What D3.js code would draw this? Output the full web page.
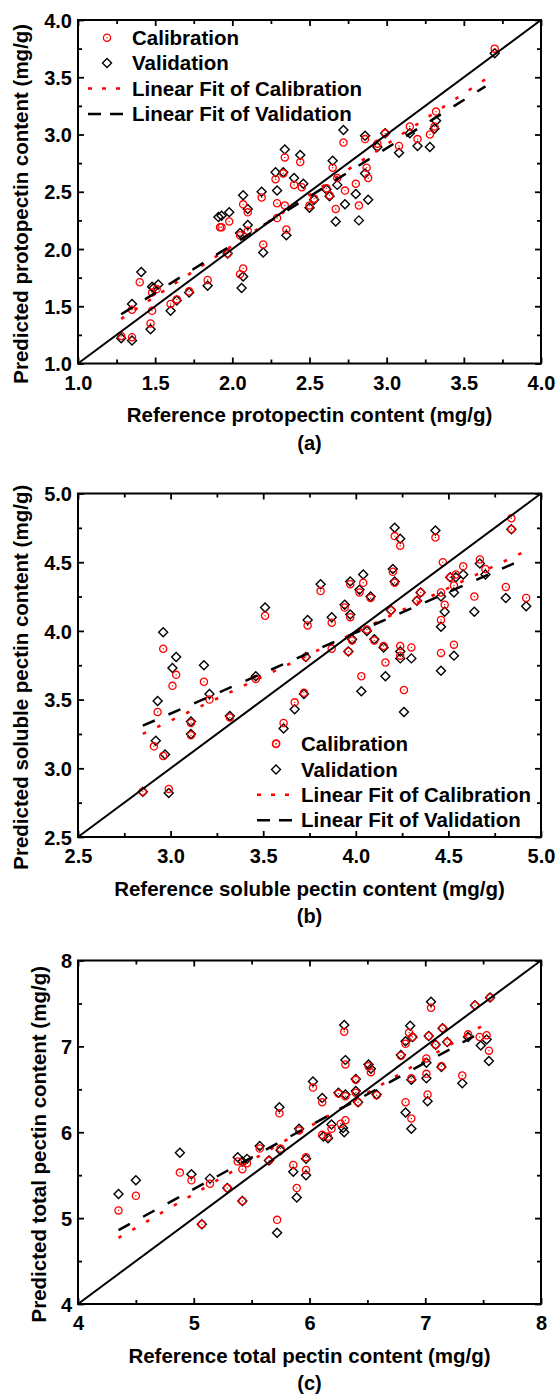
<!DOCTYPE html>
<html>
<head>
<meta charset="utf-8">
<script src="https://cdn.jsdelivr.net/npm/d3@7"></script>
<style>
  body { margin: 0; background: #fff; }
  svg text { font-family: "Liberation Sans", Arial, sans-serif; font-weight: bold; fill: #000; }
</style>
</head>
<body>
<svg id="chart" width="556" height="1395"></svg>
<script>
// ---- data: [reference, predicted] ----
const calA = [[3.70,3.75],[3.32,3.20],[3.31,3.07],[3.28,3.00],[3.20,2.96],[3.15,3.07],[3.08,2.90],[2.99,3.01],[2.94,2.92],[2.86,2.96],[2.72,2.93],[2.87,2.71],[2.88,2.62],[2.80,2.57],[2.82,2.38],[2.73,2.51],[2.67,2.35],[2.65,2.71],[2.68,2.62],[2.61,2.53],[2.63,2.47],[2.53,2.44],[2.50,2.38],[2.44,2.76],[2.45,2.54],[2.40,2.56],[2.34,2.80],[2.33,2.66],[2.28,2.61],[2.29,2.40],[2.34,2.38],[2.35,2.17],[2.29,2.27],[2.19,2.45],[2.20,2.04],[2.07,2.39],[2.10,2.32],[2.07,1.83],[2.05,1.78],[2.05,2.12],[2.10,2.16],[1.98,2.24],[1.93,2.19],[1.92,2.19],[1.97,1.96],[1.84,1.73],[1.72,1.63],[1.64,1.56],[1.60,1.52],[1.51,1.65],[1.48,1.62],[1.40,1.71],[1.48,1.46],[1.47,1.35],[1.35,1.47],[1.35,1.23],[1.28,1.24]];
const valA = [[3.70,3.71],[3.32,3.12],[3.31,3.05],[3.28,2.89],[3.20,2.90],[3.15,3.01],[3.08,2.84],[2.99,3.01],[2.94,2.89],[2.86,2.99],[2.72,3.04],[2.86,2.66],[2.88,2.43],[2.80,2.48],[2.82,2.25],[2.73,2.39],[2.67,2.24],[2.65,2.77],[2.68,2.56],[2.61,2.52],[2.63,2.46],[2.53,2.43],[2.50,2.36],[2.44,2.82],[2.46,2.57],[2.40,2.62],[2.34,2.87],[2.33,2.67],[2.28,2.67],[2.29,2.51],[2.35,2.12],[2.19,2.50],[2.20,1.97],[2.07,2.47],[2.10,2.35],[2.10,2.21],[2.07,1.76],[2.06,1.66],[2.05,2.14],[1.98,2.32],[1.93,2.29],[1.91,2.28],[1.97,1.96],[1.84,1.68],[1.72,1.62],[1.64,1.55],[1.60,1.46],[1.52,1.69],[1.49,1.66],[1.41,1.80],[1.48,1.67],[1.47,1.30],[1.35,1.52],[1.35,1.20],[1.28,1.22]];
const calB = [[2.85,2.83],[2.91,3.16],[2.96,3.09],[2.99,2.85],[2.93,3.41],[2.96,3.87],[3.01,3.60],[3.03,3.68],[3.11,3.24],[3.11,3.33],[3.18,3.63],[3.21,3.50],[3.32,3.37],[3.46,3.65],[3.51,4.11],[3.57,3.18],[3.61,3.33],[3.67,3.48],[3.72,3.55],[3.73,3.81],[3.74,4.04],[3.81,4.29],[3.87,4.06],[3.87,3.87],[3.94,4.17],[3.96,3.85],[3.97,4.10],[3.98,3.93],[3.97,4.34],[4.02,4.28],[4.04,4.35],[4.03,3.67],[4.06,4.01],[4.08,4.24],[4.10,3.93],[4.15,3.89],[4.16,3.77],[4.19,4.15],[4.20,4.43],[4.21,4.35],[4.21,4.69],[4.24,4.62],[4.24,3.89],[4.24,3.82],[4.26,3.57],[4.30,3.88],[4.33,4.22],[4.35,4.28],[4.43,4.68],[4.46,3.84],[4.46,4.08],[4.46,4.28],[4.47,4.50],[4.48,4.19],[4.51,4.39],[4.53,4.33],[4.53,3.90],[4.54,4.41],[4.58,4.47],[4.64,4.25],[4.67,4.52],[4.70,4.45],[4.81,4.32],[4.84,4.82],[4.84,4.74],[4.92,4.24]];
const valB = [[2.85,2.83],[2.92,3.20],[2.97,3.10],[2.99,2.82],[2.93,3.49],[2.96,3.99],[3.01,3.73],[3.03,3.81],[3.11,3.25],[3.11,3.34],[3.18,3.75],[3.21,3.54],[3.32,3.38],[3.46,3.67],[3.51,4.17],[3.61,3.29],[3.67,3.43],[3.72,3.54],[3.73,3.81],[3.74,4.08],[3.81,4.34],[3.87,4.10],[3.94,4.19],[3.96,3.85],[3.97,4.12],[3.98,3.94],[3.97,4.36],[4.02,4.30],[4.04,4.41],[4.03,3.56],[4.06,4.00],[4.08,4.25],[4.10,3.94],[4.15,3.88],[4.16,3.67],[4.19,4.15],[4.20,4.45],[4.21,4.36],[4.21,4.75],[4.24,4.67],[4.24,3.85],[4.24,3.80],[4.26,3.41],[4.30,3.80],[4.33,4.22],[4.35,4.28],[4.43,4.73],[4.46,3.71],[4.46,4.03],[4.46,4.25],[4.48,4.14],[4.51,4.39],[4.53,4.28],[4.53,3.82],[4.54,4.39],[4.58,4.41],[4.64,4.14],[4.67,4.49],[4.70,4.41],[4.81,4.24],[4.84,4.74],[4.92,4.18]];
const calC = [[4.35,5.09],[4.50,5.26],[4.88,5.53],[4.98,5.44],[5.07,4.93],[5.14,5.40],[5.29,5.35],[5.38,5.66],[5.42,5.57],[5.46,5.64],[5.42,5.20],[5.57,5.81],[5.65,5.67],[5.72,4.98],[5.74,6.22],[5.75,5.81],[5.86,5.62],[5.89,5.35],[5.91,6.02],[5.97,5.71],[5.97,5.56],[6.03,6.52],[6.11,6.35],[6.11,5.97],[6.16,5.95],[6.19,6.04],[6.25,6.45],[6.27,6.10],[6.30,7.17],[6.31,6.79],[6.31,6.42],[6.31,6.14],[6.40,6.61],[6.40,6.46],[6.42,6.35],[6.51,6.77],[6.53,6.70],[6.58,6.43],[6.79,6.89],[6.83,7.03],[6.83,6.35],[6.86,7.16],[6.88,6.63],[6.88,6.16],[6.89,7.11],[7.01,6.86],[7.01,6.68],[7.02,6.44],[7.03,7.12],[7.05,7.45],[7.09,7.02],[7.14,6.77],[7.15,7.21],[7.19,7.05],[7.32,6.66],[7.37,7.14],[7.43,7.48],[7.47,7.11],[7.53,7.13],[7.55,6.95],[7.56,7.57]];
const valC = [[4.35,5.28],[4.50,5.44],[4.88,5.76],[4.98,5.51],[5.07,4.93],[5.14,5.46],[5.29,5.35],[5.38,5.71],[5.42,5.66],[5.46,5.69],[5.42,5.20],[5.57,5.84],[5.65,5.67],[5.72,4.83],[5.74,6.29],[5.75,5.79],[5.86,5.54],[5.89,5.24],[5.91,6.04],[5.97,5.69],[5.97,5.50],[6.03,6.59],[6.11,6.40],[6.12,5.95],[6.16,5.93],[6.19,6.09],[6.25,6.46],[6.29,6.05],[6.30,7.25],[6.31,6.84],[6.31,6.44],[6.30,6.00],[6.40,6.62],[6.40,6.48],[6.42,6.35],[6.51,6.79],[6.53,6.74],[6.58,6.44],[6.79,6.90],[6.83,7.06],[6.83,6.23],[6.87,7.24],[6.88,6.61],[6.88,6.04],[6.89,7.11],[7.01,6.81],[7.01,6.63],[7.02,6.36],[7.03,7.12],[7.05,7.52],[7.09,7.02],[7.14,6.76],[7.15,7.21],[7.19,7.05],[7.32,6.57],[7.37,7.11],[7.43,7.48],[7.48,7.01],[7.53,7.08],[7.55,6.83],[7.56,7.57]];

// linear fit end points as drawn in the figure
const fitCalA = [[1.28,1.39],[3.66,3.50]], fitValA = [[1.28,1.43],[3.64,3.42]];
const fitCalB = [[2.85,3.25],[4.90,4.57]], fitValB = [[2.85,3.31],[4.92,4.53]];
const fitCalC = [[4.35,4.77],[7.52,7.26]], fitValC = [[4.35,4.86],[7.49,7.17]];

const domainA = [1, 4], domainB = [2.5, 5], domainC = [4, 8];
const ticksA = [1.0,1.5,2.0,2.5,3.0,3.5,4.0], minorA = [1.25,1.75,2.25,2.75,3.25,3.75];
const ticksB = [2.5,3.0,3.5,4.0,4.5,5.0], minorB = [2.75,3.25,3.75,4.25,4.75];
const ticksC = [4,5,6,7,8], minorC = [4.5,5.5,6.5,7.5];

const xTitles = ["Reference protopectin content (mg/g)", "Reference soluble pectin content (mg/g)", "Reference total pectin content (mg/g)"];
const yTitles = ["Predicted protopectin content (mg/g)", "Predicted soluble pectin content (mg/g)", "Predicted total pectin content (mg/g)"];
const panelLabels = ["(a)", "(b)", "(c)"];
const legendLabels = ["Calibration", "Validation", "Linear Fit of Calibration", "Linear Fit of Validation"];

// ---- layout ----
let svg = d3.select("#chart"),
    left = 78, right = 541, plotH = 343.5;

let panels = [
  {cal: calA, val: valA, fitCal: fitCalA, fitVal: fitValA, dom: domainA, ticks: ticksA, minor: minorA, fmt: d3.format(".1f"),
   top: 20, yTitleX: 28, legend: {x: 88, y: 37.7}},
  {cal: calB, val: valB, fitCal: fitCalB, fitVal: fitValB, dom: domainB, ticks: ticksB, minor: minorB, fmt: d3.format(".1f"),
   top: 493.5, yTitleX: 28, legend: {x: 257, y: 744}},
  {cal: calC, val: valC, fitCal: fitCalC, fitVal: fitValC, dom: domainC, ticks: ticksC, minor: minorC, fmt: d3.format("d"),
   top: 960.5, yTitleX: 46, legend: null}
];

function diamond(r) { return "M0," + (-r) + "L" + r + ",0L0," + r + "L" + (-r) + ",0Z"; }

panels.forEach((p, i) => {
  let x = d3.scaleLinear().domain(p.dom).range([0, right - left]),
      y = d3.scaleLinear().domain(p.dom).range([plotH, 0]),
      w = right - left;
  let g = svg.append("g").attr("transform", "translate(" + left + "," + p.top + ")");

  // axes: all ticks inward, labels on bottom/left only
  let ax = [
    [d3.axisBottom(x).tickValues(p.ticks).tickSize(-6).tickPadding(12).tickFormat(p.fmt), "translate(0," + plotH + ")"],
    [d3.axisBottom(x).tickValues(p.minor).tickSize(-4).tickFormat(""), "translate(0," + plotH + ")"],
    [d3.axisTop(x).tickValues(p.ticks).tickSize(-6).tickFormat(""), null],
    [d3.axisTop(x).tickValues(p.minor).tickSize(-4).tickFormat(""), null],
    [d3.axisLeft(y).tickValues(p.ticks).tickSize(-6).tickPadding(6).tickFormat(p.fmt), null, true],
    [d3.axisLeft(y).tickValues(p.minor).tickSize(-4).tickFormat(""), null],
    [d3.axisRight(y).tickValues(p.ticks).tickSize(-6).tickFormat(""), "translate(" + w + ",0)"],
    [d3.axisRight(y).tickValues(p.minor).tickSize(-4).tickFormat(""), "translate(" + w + ",0)"]
  ];
  ax.forEach(a => {
    let ag = g.append("g").call(a[0]);
    if (a[1]) ag.attr("transform", a[1]);
    ag.select(".domain").remove();
    ag.selectAll(".tick line").attr("stroke", "#000").attr("stroke-width", 1.8);
    ag.selectAll(".tick text").attr("font-size", "20px").attr("fill", "#000")
      .attr("font-family", "Liberation Sans, Arial, sans-serif").attr("font-weight", "bold");
    if (a[2]) ag.selectAll(".tick text").attr("dy", "0.36em");
  });

  let line = d3.line().x(d => x(d[0])).y(d => y(d[1]));

  // markers
  g.append("g").selectAll("path").data(p.val).enter().append("path")
    .attr("d", diamond(4.5))
    .attr("transform", d => "translate(" + x(d[0]) + "," + y(d[1]) + ")")
    .attr("fill", "none").attr("stroke", "#000").attr("stroke-width", 1.4);
  let cg = g.append("g").selectAll("g").data(p.cal).enter().append("g")
    .attr("transform", d => "translate(" + x(d[0]) + "," + y(d[1]) + ")");
  cg.append("circle").attr("r", 3.6).attr("fill", "none").attr("stroke", "#ff0000").attr("stroke-width", 1.3);
  cg.append("circle").attr("r", 0.7).attr("fill", "#ff0000");

  // fit lines
  g.append("path").datum(p.fitCal).attr("d", line)
    .attr("fill", "none").attr("stroke", "#ff0000").attr("stroke-width", 2.6).attr("stroke-dasharray", "3.5,12.5");
  g.append("path").datum(p.fitVal).attr("d", line)
    .attr("fill", "none").attr("stroke", "#000").attr("stroke-width", 2.5).attr("stroke-dasharray", "13,15");

  // 1:1 line
  g.append("path").datum([[p.dom[0], p.dom[0]], [p.dom[1], p.dom[1]]]).attr("d", line)
    .attr("fill", "none").attr("stroke", "#000").attr("stroke-width", 2);

  // frame
  g.append("rect").attr("width", w).attr("height", plotH)
    .attr("fill", "none").attr("stroke", "#000").attr("stroke-width", 2);

  // titles
  g.append("text").attr("x", w / 2).attr("y", plotH + 58.5).attr("text-anchor", "middle")
    .attr("font-size", "20.5px").text(xTitles[i]);
  g.append("text").attr("x", w / 2).attr("y", plotH + 86).attr("text-anchor", "middle")
    .attr("font-size", "20px").text(panelLabels[i]);
  svg.append("text").attr("transform", "translate(" + p.yTitleX + "," + (p.top + plotH / 2 + 12) + ") rotate(-90)")
    .attr("text-anchor", "middle").attr("font-size", "20.5px").text(yTitles[i]);

  // legend
  if (p.legend) {
    let lg = svg.append("g").attr("transform", "translate(" + p.legend.x + "," + p.legend.y + ")"),
        rowH = 25.4;
    legendLabels.forEach((t, k) => {
      lg.append("text").attr("x", 44).attr("y", k * rowH + 7.2).attr("font-size", "20.5px").text(t);
    });
    lg.append("circle").attr("cx", 19).attr("cy", 0).attr("r", 3.6)
      .attr("fill", "none").attr("stroke", "#ff0000").attr("stroke-width", 1.3);
    lg.append("circle").attr("cx", 19).attr("cy", 0).attr("r", 0.7).attr("fill", "#ff0000");
    lg.append("path").attr("d", diamond(4.5)).attr("transform", "translate(19," + rowH + ")")
      .attr("fill", "none").attr("stroke", "#000").attr("stroke-width", 1.4);
    lg.append("line").attr("x1", 0).attr("x2", 35).attr("y1", 2 * rowH).attr("y2", 2 * rowH)
      .attr("stroke", "#ff0000").attr("stroke-width", 2.6).attr("stroke-dasharray", "4,10");
    lg.append("line").attr("x1", 0).attr("x2", 35).attr("y1", 3 * rowH).attr("y2", 3 * rowH)
      .attr("stroke", "#000").attr("stroke-width", 2.5).attr("stroke-dasharray", "13,9");
  }
});
</script>
</body>
</html>
